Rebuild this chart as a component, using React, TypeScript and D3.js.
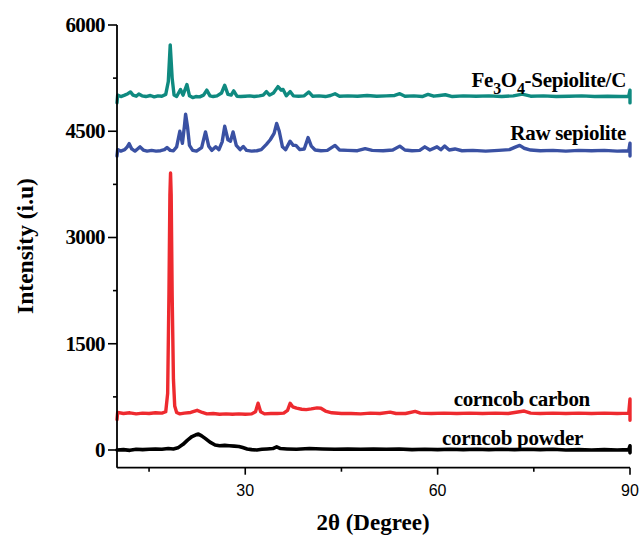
import React from "react";
import * as d3 from "d3";

// 2θ (degree), intensity (i.u)
const fe3o4SepioliteC: [number, number][] = [
  [10.0, 4900], [10.1, 5010], [10.6, 4990], [11.2, 5010], [11.7, 5030], [12.1, 5055], [12.5, 5010], [13.0, 4995],
  [13.4, 5025], [13.9, 5000], [14.5, 4990], [15.2, 5005], [15.8, 4985], [16.4, 5000], [17.0, 4995], [17.6, 5020],
  [18.0, 5200], [18.3, 5720], [18.6, 5250], [18.9, 5010], [19.3, 4990], [19.9, 5090], [20.3, 5010], [20.9, 5160],
  [21.3, 5000], [21.8, 4975], [22.3, 4990], [22.9, 4985], [23.5, 5010], [24.0, 5080], [24.5, 5000], [25.0, 4990],
  [25.6, 5000], [26.3, 5040], [26.8, 5150], [27.3, 5020], [27.8, 5010], [28.2, 5070], [28.7, 4995], [29.3, 4990],
  [30.0, 4995], [30.7, 5000], [31.4, 4990], [32.2, 5000], [32.8, 5010], [33.3, 5060], [33.8, 5010], [34.4, 5040],
  [35.1, 5130], [35.6, 5080], [35.9, 5090], [36.4, 5000], [37.0, 5060], [37.5, 5000], [38.3, 4995], [39.2, 5000],
  [39.9, 5055], [40.5, 4995], [41.5, 5000], [42.5, 4990], [43.3, 5005], [44.0, 5030], [44.7, 4995], [46.0, 5000],
  [47.5, 4995], [49.0, 5005], [50.5, 4995], [52.0, 5000], [53.3, 5005], [54.1, 5030], [54.9, 4995], [56.3, 5000],
  [57.6, 4990], [58.5, 5020], [59.4, 4995], [60.3, 5005], [61.2, 5015], [62.3, 4990], [64.0, 5000], [66.0, 4995],
  [68.0, 5000], [70.0, 4990], [71.8, 5000], [73.2, 5025], [74.5, 4995], [76.5, 5000], [78.5, 4990], [80.5, 4995],
  [82.5, 5000], [84.5, 4990], [86.5, 4995], [88.5, 4990], [89.8, 4995], [90.0, 5080], [90.0, 4900],
];

const rawSepiolite: [number, number][] = [
  [10.0, 4150], [10.1, 4240], [10.6, 4220], [11.2, 4240], [11.6, 4280], [11.9, 4325], [12.3, 4250], [12.8, 4220],
  [13.2, 4250], [13.6, 4280], [14.1, 4235], [14.7, 4220], [15.4, 4230], [16.1, 4220], [16.8, 4225], [17.4, 4240],
  [17.8, 4270], [18.3, 4230], [18.8, 4225], [19.3, 4280], [19.8, 4500], [20.2, 4330], [20.5, 4560], [20.7, 4740],
  [21.0, 4560], [21.3, 4300], [21.8, 4230], [22.4, 4220], [23.2, 4270], [23.8, 4490], [24.3, 4290], [24.8, 4230],
  [25.4, 4280], [25.9, 4240], [26.4, 4350], [26.8, 4570], [27.3, 4380], [27.7, 4360], [28.1, 4490], [28.6, 4300],
  [29.2, 4240], [29.7, 4285], [30.2, 4230], [31.0, 4220], [31.8, 4225], [32.5, 4240], [33.3, 4315], [33.9, 4380],
  [34.5, 4470], [34.9, 4610], [35.3, 4500], [35.8, 4280], [36.3, 4240], [37.0, 4360], [37.5, 4300], [37.9, 4300],
  [38.5, 4240], [39.2, 4250], [39.8, 4410], [40.3, 4290], [40.9, 4235], [41.8, 4225], [42.8, 4230], [44.0, 4300],
  [44.7, 4235], [46.0, 4230], [47.5, 4225], [48.7, 4255], [49.8, 4230], [51.5, 4225], [53.0, 4235], [54.1, 4290],
  [54.9, 4235], [56.0, 4225], [57.2, 4230], [58.0, 4280], [58.8, 4235], [59.9, 4280], [60.5, 4240], [61.1, 4290],
  [61.8, 4235], [62.7, 4250], [63.8, 4225], [65.5, 4230], [67.5, 4220], [69.5, 4230], [71.2, 4240], [72.2, 4280],
  [72.8, 4300], [73.5, 4260], [74.5, 4235], [76.0, 4225], [78.0, 4230], [80.0, 4220], [82.0, 4230], [84.0, 4225],
  [86.0, 4230], [88.0, 4220], [89.8, 4225], [90.0, 4330], [90.0, 4150],
];

const corncobCarbon: [number, number][] = [
  [10.0, 430], [10.1, 530], [11.0, 515], [12.0, 525], [13.0, 510], [14.0, 520], [15.0, 515], [16.0, 525],
  [17.0, 520], [17.6, 540], [17.9, 800], [18.1, 2200], [18.25, 3600], [18.35, 3910], [18.45, 3600], [18.6, 2200],
  [18.8, 1000], [19.0, 620], [19.3, 530], [19.8, 510], [20.5, 520], [21.5, 530], [22.5, 560], [23.3, 530],
  [24.0, 510], [25.0, 515], [26.0, 505], [27.0, 510], [28.0, 505], [29.0, 510], [30.0, 505], [31.0, 510],
  [31.6, 540], [32.0, 660], [32.4, 540], [33.0, 510], [34.0, 515], [35.0, 515], [36.0, 520], [36.6, 560],
  [37.0, 660], [37.4, 610], [38.0, 590], [38.8, 575], [39.5, 570], [40.3, 580], [41.2, 595], [41.8, 590],
  [42.5, 550], [43.5, 525], [45.0, 515], [46.5, 515], [48.0, 510], [49.5, 520], [51.0, 515], [52.6, 535],
  [53.5, 515], [55.0, 515], [56.5, 545], [57.3, 520], [59.0, 515], [61.0, 520], [63.0, 515], [65.0, 520],
  [67.0, 515], [69.0, 520], [71.0, 515], [73.5, 550], [74.5, 520], [76.0, 515], [78.0, 520], [80.0, 515],
  [82.0, 520], [84.0, 515], [86.0, 520], [88.0, 515], [89.8, 520], [90.0, 720], [90.0, 420],
];

const corncobPowder: [number, number][] = [
  [10.0, 0], [11.0, 5], [12.0, -5], [13.0, 10], [14.0, 5], [15.0, 10], [16.0, 15], [17.0, 10],
  [18.0, 20], [18.8, 15], [19.5, 30], [20.3, 80], [21.0, 140], [21.7, 190], [22.3, 215], [22.7, 225],
  [23.2, 200], [23.8, 160], [24.5, 110], [25.3, 70], [26.0, 60], [26.8, 65], [27.5, 60], [28.3, 55],
  [29.0, 50], [29.6, 35], [30.3, 15], [31.0, 5], [31.8, 0], [32.6, 10], [33.4, 15], [34.3, 20],
  [34.9, 45], [35.5, 20], [36.5, 15], [38.0, 10], [40.0, 20], [42.0, 15], [44.0, 10], [46.0, 15],
  [48.0, 10], [50.0, 15], [52.0, 10], [54.0, 15], [56.0, 5], [58.0, 10], [60.0, 5], [62.0, 10],
  [64.0, 5], [66.0, 10], [68.0, 5], [70.0, 10], [72.0, 5], [74.0, 10], [76.0, 5], [78.0, 10],
  [80.0, 0], [82.0, 5], [84.0, 0], [86.0, 5], [88.0, 0], [89.8, 5], [90.0, 60], [90.0, -40],
];

const yMajorTicks = [0, 1500, 3000, 4500, 6000];
const yMinorTicks = [750, 2250, 3750, 5250];
const xMajorTicks = [30, 60, 90];
const xMinorTicks = [15, 45, 75];

const W = 641;
const H = 536;

export default function App() {
  const x = d3.scaleLinear().domain([10, 90]).range([117, 630]);
  const y = d3.scaleLinear().domain([-250, 6000]).range([467.7, 25]);
  const line = d3
    .line<[number, number]>()
    .x((d) => x(d[0]))
    .y((d) => y(d[1]));

  const serif = "'Liberation Serif', 'Times New Roman', serif";
  const sans = "'Liberation Sans', Arial, sans-serif";
  const series = [
    { data: corncobPowder, color: "#000000", w: 3.6 },
    { data: corncobCarbon, color: "#ee2a2f", w: 3.4 },
    { data: rawSepiolite, color: "#3a51a3", w: 3.4 },
    { data: fe3o4SepioliteC, color: "#0f8a80", w: 3.4 },
  ];
  const x0 = x(10);
  const yb = y(-250);

  return (
    <svg width={W} height={H} style={{ position: "absolute", left: 0, top: 0, background: "#fff" }}>
      {series.map((s, i) => (
        <path key={i} d={line(s.data) || ""} fill="none" stroke={s.color} strokeWidth={s.w} strokeLinejoin="round" strokeLinecap="round" />
      ))}
      {/* axes */}
      <line x1={x0} x2={x0} y1={y(6000)} y2={yb} stroke="#000" strokeWidth={1.8} />
      <line x1={x0} x2={x(90)} y1={yb} y2={yb} stroke="#000" strokeWidth={1.8} />
      {yMajorTicks.map((t) => (
        <g key={"ym" + t}>
          <line x1={x0 - 9} x2={x0} y1={y(t)} y2={y(t)} stroke="#000" strokeWidth={1.6} />
          <text x={x0 - 12} y={y(t) + 7} textAnchor="end" fontFamily={serif} fontWeight="bold" fontSize={21} letterSpacing={-0.6}>
            {t}
          </text>
        </g>
      ))}
      {yMinorTicks.map((t) => (
        <line key={"yn" + t} x1={x0 - 4} x2={x0} y1={y(t)} y2={y(t)} stroke="#000" strokeWidth={1.6} />
      ))}
      {xMajorTicks.map((t) => (
        <g key={"xm" + t}>
          <line x1={x(t)} x2={x(t)} y1={yb} y2={yb + 7} stroke="#000" strokeWidth={1.6} />
          <text x={x(t)} y={yb + 28} textAnchor="middle" fontFamily={sans} fontSize={16}>
            {t}
          </text>
        </g>
      ))}
      {xMinorTicks.map((t) => (
        <line key={"xn" + t} x1={x(t)} x2={x(t)} y1={yb} y2={yb + 4} stroke="#000" strokeWidth={1.6} />
      ))}
      {/* axis titles */}
      <text x={373} y={530} textAnchor="middle" fontFamily={serif} fontWeight="bold" fontSize={23}>
        2θ (Degree)
      </text>
      <text transform="translate(33,246) rotate(-90)" textAnchor="middle" fontFamily={serif} fontWeight="bold" fontSize={23.5}>
        Intensity (i.u)
      </text>
      {/* series labels */}
      <text x={626} y={87} textAnchor="end" fontFamily={serif} fontWeight="bold" fontSize={21} letterSpacing={-0.3}>
        Fe<tspan fontSize={16} dy={7}>3</tspan>
        <tspan dy={-7}>O</tspan>
        <tspan fontSize={16} dy={7}>4</tspan>
        <tspan dy={-7}>-Sepiolite/C</tspan>
      </text>
      <text x={626} y={140} textAnchor="end" fontFamily={serif} fontWeight="bold" fontSize={21} letterSpacing={-0.3}>
        Raw sepiolite
      </text>
      <text x={590} y={406} textAnchor="end" fontFamily={serif} fontWeight="bold" fontSize={21} letterSpacing={-0.3}>
        corncob carbon
      </text>
      <text x={583} y={445} textAnchor="end" fontFamily={serif} fontWeight="bold" fontSize={21} letterSpacing={-0.3}>
        corncob powder
      </text>
    </svg>
  );
}
